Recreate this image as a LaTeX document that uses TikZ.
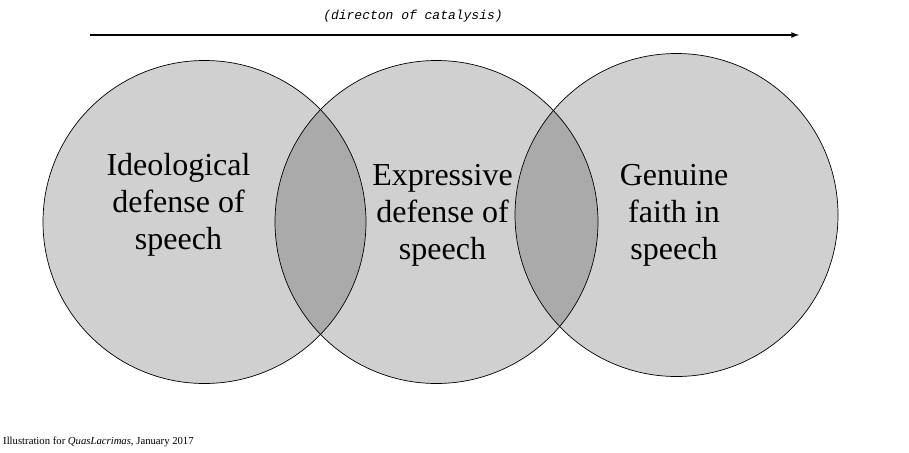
\documentclass[tikz,border=0pt]{standalone}
\usepackage{fontspec}
\setmainfont{Liberation Serif}
\setmonofont{Liberation Mono}
\usetikzlibrary{arrows, math}

\tikzset{
venn/.style={circle, draw=black, line width=0.7pt, fill=black, fill opacity=0.185, text opacity=1, minimum size=2*\R pt, inner sep=0pt},
label text/.style={align=center, font=\fontsize{32}{37}\selectfont},
}

\begin{document}
\begin{tikzpicture}[x=1pt, y=-1pt]
\tikzmath{
\R=161.5;
}
\useasboundingbox (0,0) rectangle (909,452);

% the three circles
\node [venn] (ideo) at (204.5,222) {};
\node [venn] (expr) at (436.5,222) {};
\node [venn] (faith) at (676.5,215) {};

\node [label text] (ideotext) at (178.5,205) {Ideological\\defense of\\speech};
\node [label text] (exprtext) at (442.5,215) {Expressive\\defense of\\speech};
\node [label text] (faithtext) at (674,215) {Genuine\\faith in\\speech};

% direction arrow
\coordinate (start) at (90,35);
\coordinate (end) at (799,35);
\draw [-latex, line width=1.6] (start) -- (end);
\node [font=\fontsize{13}{15}\selectfont\ttfamily\itshape] (dir) at (413,16) {(directon of catalysis)};

\node [anchor=west, font=\fontsize{10.7}{12}\selectfont, inner sep=0pt] (credit) at (3,442) {Illustration for \emph{QuasLacrimas}, January 2017};

\end{tikzpicture}
\end{document}
